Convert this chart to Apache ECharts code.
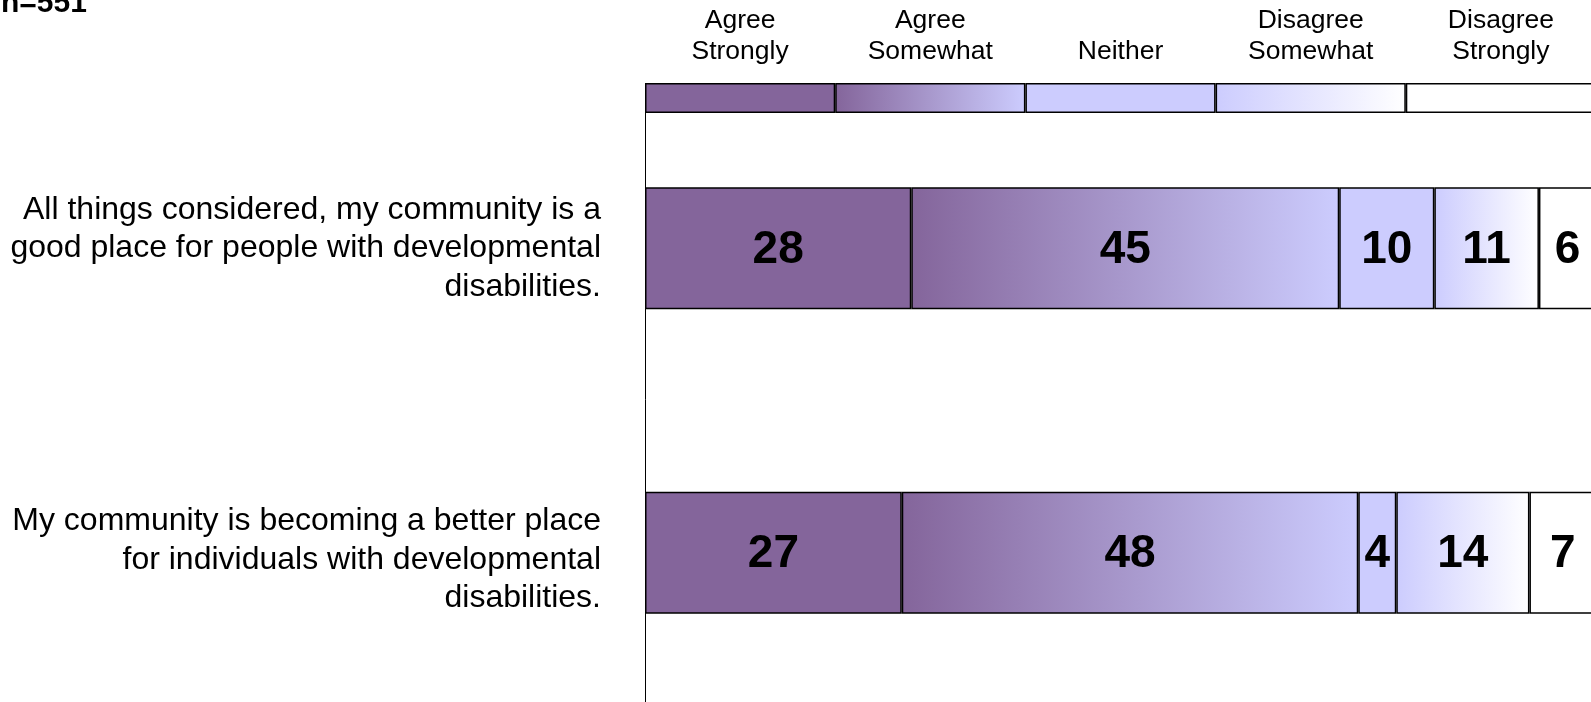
<!DOCTYPE html>
<html>
<head>
<meta charset="utf-8">
<script src="https://cdn.jsdelivr.net/npm/echarts@6/dist/echarts.min.js"></script>
<style>
html,body{margin:0;padding:0;background:#fff;}
#chart{width:1591px;height:702px;}
</style>
</head>
<body>
<div id="chart"></div>
<script>
// ---- data ----
const categories = [
  'All things considered, my community is a\ngood place for people with developmental\ndisabilities.',
  'My community is becoming a better place\nfor individuals with developmental\ndisabilities.'
];
const seriesNames = ['Agree Strongly', 'Agree Somewhat', 'Neither', 'Disagree Somewhat', 'Disagree Strongly'];
const legendLabels = ['Agree\nStrongly', 'Agree\nSomewhat', 'Neither', 'Disagree\nSomewhat', 'Disagree\nStrongly'];
const legendValues = [20, 20, 20, 20, 20];
const agreeStrongly = [28, 27];
const agreeSomewhat = [45, 48];
const neither = [10, 4];
const disagreeSomewhat = [11, 14];
const disagreeStrongly = [6, 7];
const sampleNote = 'n=551';

// ---- styles ----
const PURPLE = '#84659b';
const LAV = '#ccccfe';
const FONT = 'Liberation Sans, Arial, sans-serif';
function grad(a, b) {
  return new echarts.graphic.LinearGradient(0, 0, 1, 0, [
    { offset: 0, color: a }, { offset: 1, color: b }
  ]);
}
const fills = [PURPLE, grad(PURPLE, LAV), LAV, grad(LAV, '#ffffff'), '#ffffff'];
const values = [agreeStrongly, agreeSomewhat, neither, disagreeSomewhat, disagreeStrongly];

const chart = echarts.init(document.getElementById('chart'), null, { renderer: 'canvas' });

const series = [];
// legend key bar (top grid)
legendValues.forEach((v, i) => {
  series.push({
    name: legendLabels[i],
    type: 'bar',
    xAxisIndex: 0,
    yAxisIndex: 0,
    stack: 'key',
    barWidth: 30,
    data: [v],
    itemStyle: { color: fills[i], borderColor: '#000', borderWidth: 1.5 },
    label: {
      show: true,
      position: 'top',
      distance: 16,
      formatter: () => legendLabels[i],
      fontFamily: FONT,
      fontSize: 26.5,
      lineHeight: 31,
      color: '#000',
      align: 'center'
    },
    silent: true,
    animation: false
  });
});
// data bars (main grid)
values.forEach((vals, i) => {
  series.push({
    name: seriesNames[i],
    type: 'bar',
    xAxisIndex: 1,
    yAxisIndex: 1,
    stack: 'total',
    barWidth: 122,
    data: vals,
    itemStyle: { color: fills[i], borderColor: '#000', borderWidth: 1.5 },
    label: {
      show: true,
      position: 'inside',
      offset: [0, 2],
      fontFamily: FONT,
      fontSize: 46,
      fontWeight: 'bold',
      color: '#000'
    },
    silent: true,
    animation: false
  });
});

chart.setOption({
  animation: false,
  backgroundColor: '#fff',
  title: {
    text: sampleNote,
    left: -4,
    top: -16,
    textStyle: { fontFamily: FONT, fontSize: 30, fontWeight: 'bold', color: '#000' }
  },
  grid: [
    { left: 645, right: -5, top: 83, height: 30, outerBoundsMode: 'none', containLabel: false },
    { left: 645, right: -5, top: 96, bottom: -3, outerBoundsMode: 'none', containLabel: false }
  ],
  xAxis: [
    { gridIndex: 0, type: 'value', min: 0, max: 100, show: false },
    { gridIndex: 1, type: 'value', min: 0, max: 100, show: false }
  ],
  yAxis: [
    { gridIndex: 0, type: 'category', data: ['key'], show: false },
    {
      gridIndex: 1,
      type: 'category',
      data: categories,
      inverse: true,
      z: 5,
      axisLine: { show: true, lineStyle: { color: '#000', width: 1 } },
      axisTick: { show: false },
      splitLine: { show: false },
      axisLabel: {
        margin: 44,
        fontFamily: FONT,
        fontSize: 32,
        lineHeight: 38.5,
        color: '#000',
        align: 'right',
        formatter: (value, index) => (index === 1 ? '{sp| }\n' + value : value),
        rich: { sp: { fontSize: 2, lineHeight: 14 } }
      }
    }
  ],
  series: series
});
</script>
</body>
</html>
